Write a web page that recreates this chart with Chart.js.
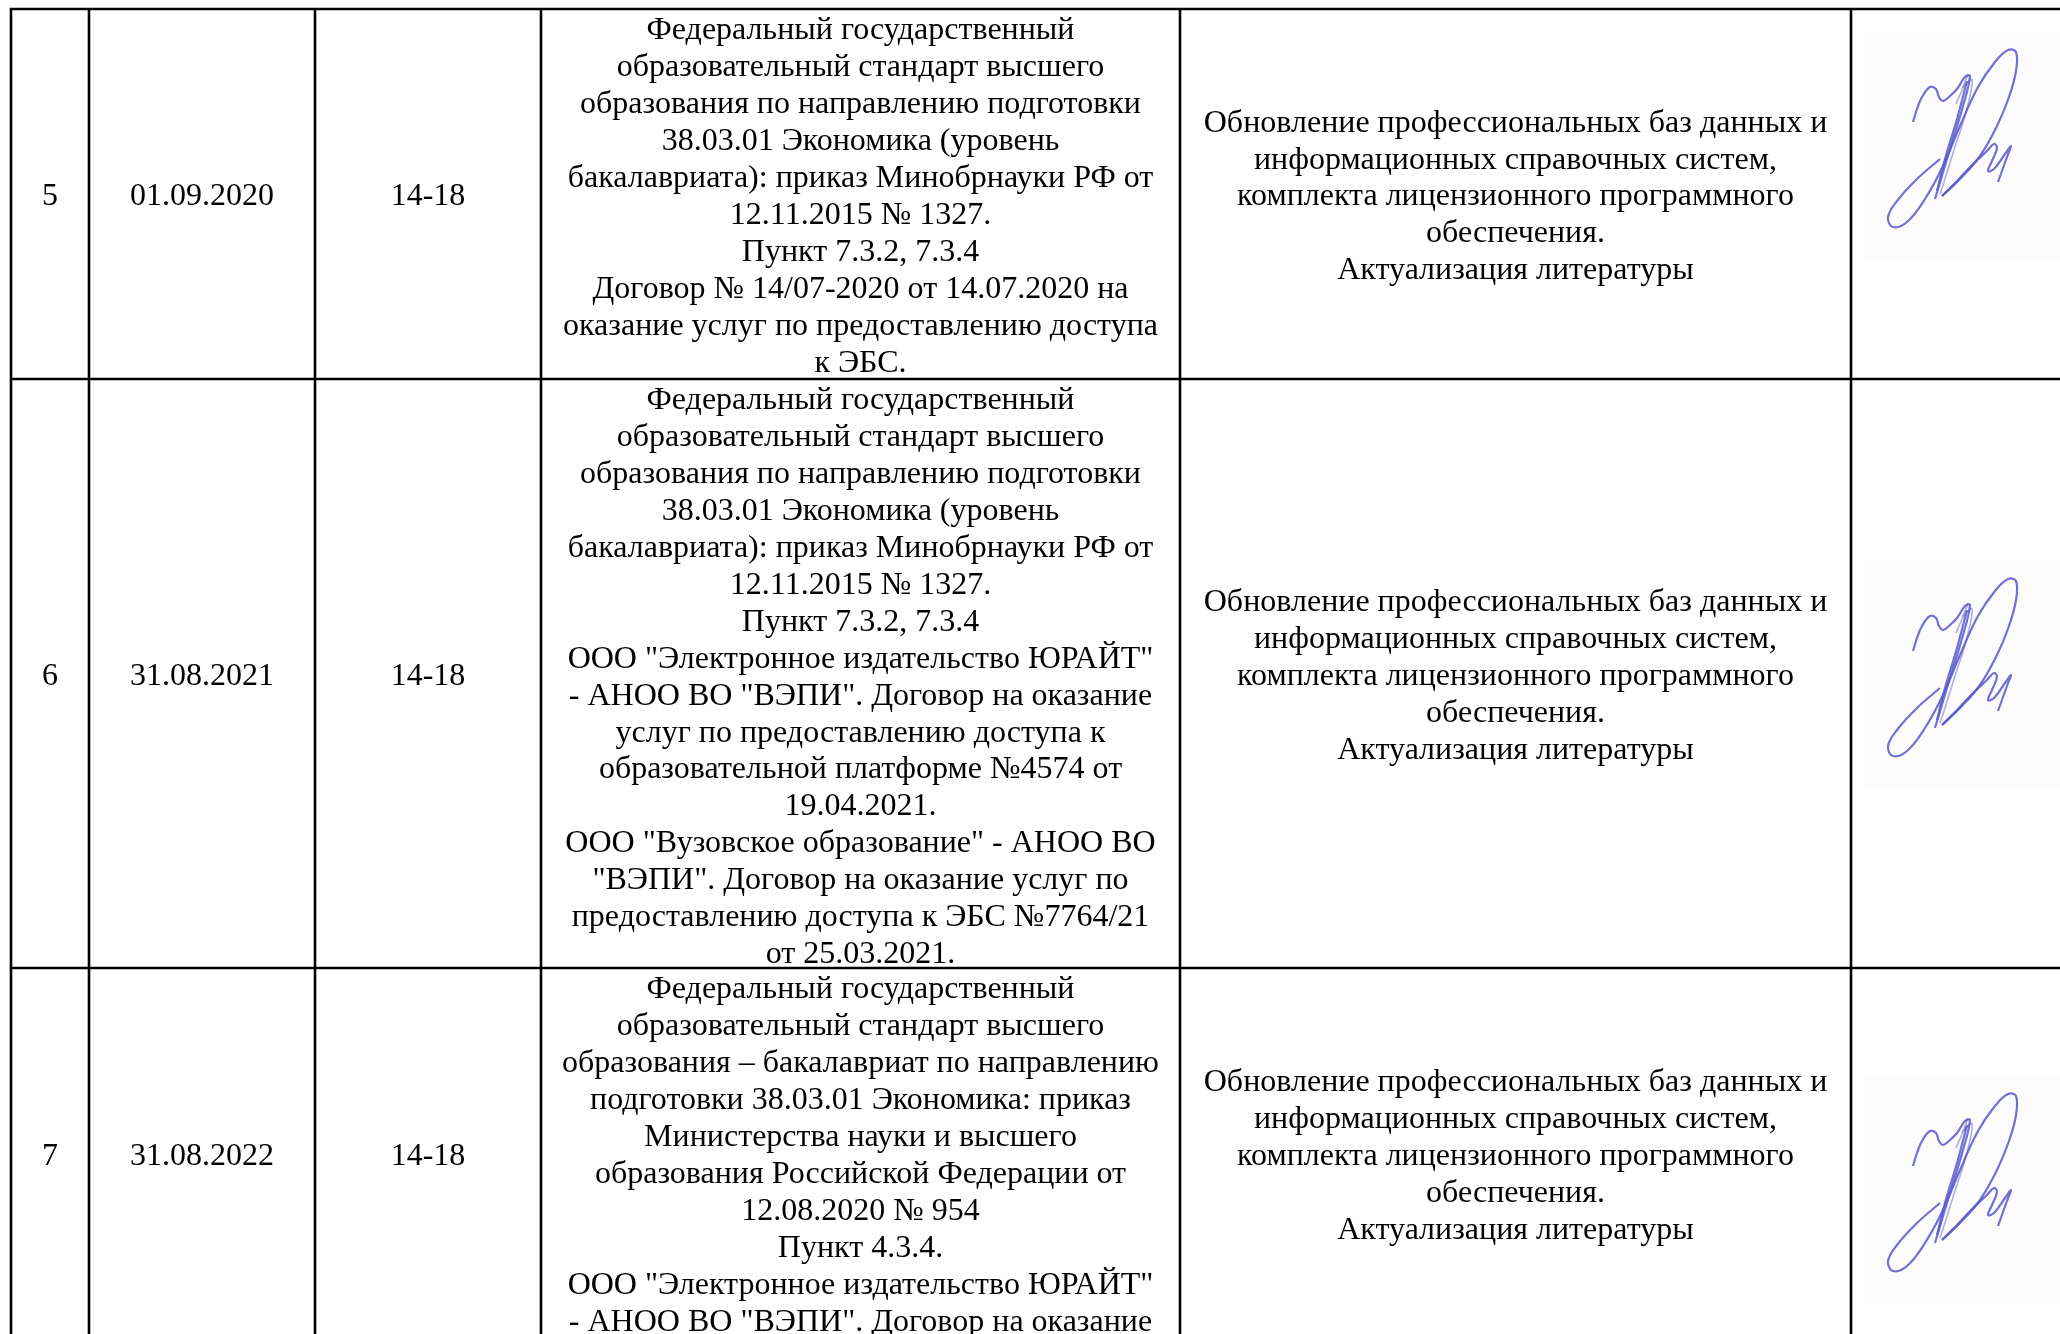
<!DOCTYPE html>
<html>
<head>
<meta charset="utf-8">
<script src="https://cdn.jsdelivr.net/npm/chart.js@4.4.1/dist/chart.umd.min.js"></script>
<style>
  html, body { margin: 0; padding: 0; background: #fff; }
  #wrap { width: 2060px; height: 1334px; }
</style>
</head>
<body>
<div id="wrap"><canvas id="chart" width="2060" height="1334"></canvas></div>
<script>
// table content
const nums = ["5", "6", "7"];
const dates = ["01.09.2020", "31.08.2021", "31.08.2022"];
const pages = ["14-18", "14-18", "14-18"];
const basis5 = [
  "Федеральный государственный",
  "образовательный стандарт высшего",
  "образования по направлению подготовки",
  "38.03.01 Экономика (уровень",
  "бакалавриата): приказ Минобрнауки РФ от",
  "12.11.2015 № 1327.",
  "Пункт 7.3.2, 7.3.4",
  "Договор № 14/07-2020 от 14.07.2020 на",
  "оказание услуг по предоставлению доступа",
  "к ЭБС."
];
const basis6 = [
  "Федеральный государственный",
  "образовательный стандарт высшего",
  "образования по направлению подготовки",
  "38.03.01 Экономика (уровень",
  "бакалавриата): приказ Минобрнауки РФ от",
  "12.11.2015 № 1327.",
  "Пункт 7.3.2, 7.3.4",
  "ООО \"Электронное издательство ЮРАЙТ\"",
  "- АНОО ВО \"ВЭПИ\". Договор на оказание",
  "услуг по предоставлению доступа к",
  "образовательной платформе №4574 от",
  "19.04.2021.",
  "ООО \"Вузовское образование\" - АНОО ВО",
  "\"ВЭПИ\". Договор на оказание услуг по",
  "предоставлению доступа к ЭБС №7764/21",
  "от 25.03.2021."
];
const basis7 = [
  "Федеральный государственный",
  "образовательный стандарт высшего",
  "образования – бакалавриат по направлению",
  "подготовки 38.03.01 Экономика: приказ",
  "Министерства науки и высшего",
  "образования Российской Федерации от",
  "12.08.2020 № 954",
  "Пункт 4.3.4.",
  "ООО \"Электронное издательство ЮРАЙТ\"",
  "- АНОО ВО \"ВЭПИ\". Договор на оказание",
  "услуг по предоставлению доступа к"
];
const changes = [
  "Обновление профессиональных баз данных и",
  "информационных справочных систем,",
  "комплекта лицензионного программного",
  "обеспечения.",
  "Актуализация литературы"
];

// signature strokes (first row), repeated in every row
const sigAx = [1913, 1917, 1922, 1930, 1936, 1939, 1943, 1950, 1957, 1965, 1970, 1963, 1950, 1938, 1935];
const sigAy = [122, 109, 97, 87, 89, 97, 101, 96, 89, 77, 76, 106, 149, 189, 199];
const sigBx = [1940, 1917, 1897, 1888, 1893, 1907, 1925, 1943, 1960, 1978, 1995, 2008, 2016, 2016, 2009, 1997, 1980, 1960, 1942];
const sigBy = [159, 179, 201, 217, 227, 222, 199, 166, 126, 87, 62, 50, 52, 71, 97, 126, 156, 179, 196];
const sigCx = [1942, 1957, 1973, 1987, 1994, 1997, 1992, 1988, 1994, 2005, 2011, 2007, 1998];
const sigCy = [196, 181, 164, 151, 144, 148, 161, 171, 169, 154, 146, 157, 182];
const sigDx = [1967, 1957, 1945, 1937];
const sigDy = [81, 119, 159, 191];
const sigEx = [1962, 1972, 1966, 1954, 1944, 1940];
const sigEy = [88, 80, 112, 150, 182, 194];
const sigFx = [1956, 1962, 1968];
const sigFy = [104, 90, 74];
const sigShift = [0, 529, 1044];

// layout
const colEdges = [11, 89, 315, 541, 1180, 1851, 2080];
const rowEdges = [9, 379, 968, 1339];
const lineStep = 36.9;
const basisPad = 19;
const textNudge = 3;
const scanBox = [1863, 32, 2060, 259];

const strokes = [[sigAx, sigAy], [sigBx, sigBy], [sigCx, sigCy], [sigDx, sigDy], [sigEx, sigEy], [sigFx, sigFy]];
const datasets = [];
sigShift.forEach(dy => {
  strokes.forEach(([xs, ys], k) => {
    datasets.push({
      data: xs.map((x, i) => ({ x: x, y: ys[i] + dy })),
      showLine: true,
      tension: 0.4,
      borderColor: k < 4 ? 'rgba(88, 88, 205, 0.85)' : 'rgba(120, 120, 215, 0.6)',
      borderWidth: k < 4 ? 2.2 : 1.6,
      pointRadius: 0
    });
  });
});

const tablePlugin = {
  id: 'table',
  beforeDatasetsDraw(chart) {
    const ctx = chart.ctx;
    const sx = chart.scales.x, sy = chart.scales.y;
    const X = v => sx.getPixelForValue(v);
    const Y = v => sy.getPixelForValue(v);
    ctx.save();
    // faint scanned signature patches
    ctx.fillStyle = '#fcfcfd';
    sigShift.forEach(dy => {
      ctx.fillRect(X(scanBox[0]), Y(scanBox[1] + dy), X(scanBox[2]) - X(scanBox[0]), Y(scanBox[3] + dy) - Y(scanBox[1] + dy));
    });
    ctx.fillStyle = '#000';
    ctx.font = '32px "Liberation Serif"';
    ctx.textAlign = 'center';
    ctx.textBaseline = 'middle';
    const centered = (lines, c, r) => {
      const cx = (X(colEdges[c]) + X(colEdges[c + 1])) / 2;
      const cy = (Y(rowEdges[r]) + Y(rowEdges[r + 1])) / 2 + textNudge;
      lines.forEach((t, i) => ctx.fillText(t, cx, cy + (i - (lines.length - 1) / 2) * lineStep));
    };
    const basis = [basis5, basis6, basis7];
    for (let r = 0; r < 3; r++) {
      centered([nums[r]], 0, r);
      centered([dates[r]], 1, r);
      centered([pages[r]], 2, r);
      centered(changes, 4, r);
      const cx = (X(colEdges[3]) + X(colEdges[4])) / 2;
      basis[r].forEach((t, i) => ctx.fillText(t, cx, Y(rowEdges[r] + basisPad) + textNudge + i * lineStep));
    }
    // borders
    ctx.strokeStyle = '#000';
    ctx.lineWidth = 2.6;
    ctx.beginPath();
    const top = Y(rowEdges[0]);
    colEdges.slice(0, 6).forEach(c => {
      ctx.moveTo(X(c), top);
      ctx.lineTo(X(c), Y(1334));
    });
    rowEdges.slice(0, 3).forEach(r => {
      ctx.moveTo(X(colEdges[0]) - 1.3, Y(r));
      ctx.lineTo(X(2060), Y(r));
    });
    ctx.stroke();
    ctx.restore();
  }
};

new Chart(document.getElementById('chart'), {
  type: 'scatter',
  data: { datasets: datasets },
  options: {
    responsive: false,
    animation: false,
    devicePixelRatio: 1,
    layout: { padding: 0 },
    plugins: { legend: { display: false }, tooltip: { enabled: false } },
    scales: {
      x: { type: 'linear', min: 0, max: 2060, display: false },
      y: { type: 'linear', min: 0, max: 1334, reverse: true, display: false }
    }
  },
  plugins: [tablePlugin]
});
</script>
</body>
</html>
